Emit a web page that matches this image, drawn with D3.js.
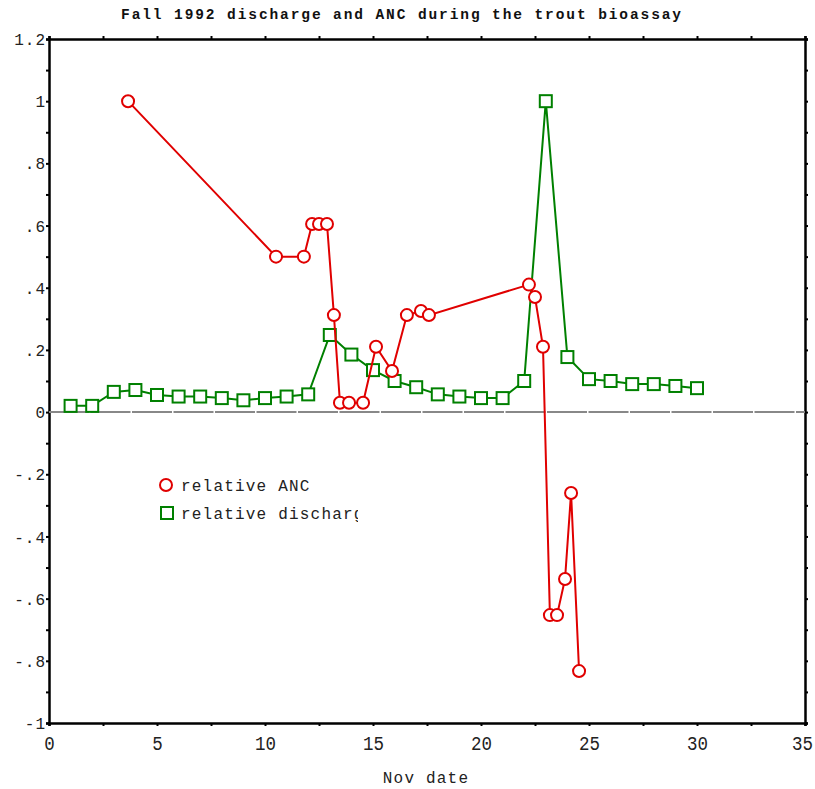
<!DOCTYPE html>
<html>
<head>
<meta charset="utf-8">
<script src="https://cdn.jsdelivr.net/npm/d3@7"></script>
<style>
  body { margin: 0; background: #fff; }
  text { font-family: "Liberation Mono", "DejaVu Sans Mono", monospace; }
</style>
</head>
<body>
<div id="container"></div>
<script>
/* CONSTANTS AND GLOBALS */
const width = 815,
  height = 789,
  margin = { top: 39, bottom: 66, left: 49, right: 10 }

// relative ANC (red circles)
const ancDate = [3.66, 10.51, 11.8, 12.18, 12.5, 12.87, 13.19, 13.47, 13.89, 14.54, 15.14, 15.88,
  16.57, 17.22, 17.59, 22.22, 22.5, 22.87, 23.19, 23.52, 23.89, 24.17, 24.54]
const ancValue = [1.0, 0.5, 0.5, 0.605, 0.605, 0.605, 0.312, 0.03, 0.03, 0.03, 0.21, 0.132,
  0.312, 0.325, 0.312, 0.41, 0.37, 0.21, -0.653, -0.653, -0.537, -0.26, -0.833]

// relative discharge (green squares)
const disDate = d3.range(1, 31)
const disValue = [0.02, 0.02, 0.065, 0.071, 0.055, 0.05, 0.05, 0.045, 0.038, 0.045,
  0.05, 0.057, 0.248, 0.185, 0.135, 0.1, 0.08, 0.057, 0.05, 0.045,
  0.045, 0.1, 1.0, 0.177, 0.106, 0.1, 0.09, 0.09, 0.084, 0.077]

const xTicks = [0, 5, 10, 15, 20, 25, 30, 35]
const yTicks = [1.2, 1, 0.8, 0.6, 0.4, 0.2, 0, -0.2, -0.4, -0.6, -0.8, -1]

const anc = ancDate.map((d, i) => ({ x: d, y: ancValue[i] }))
const dis = disDate.map((d, i) => ({ x: d, y: disValue[i] }))

/* SCALES */
const xScale = d3.scaleLinear()
  .domain([0, 35])
  .range([margin.left, width - margin.right])

const yScale = d3.scaleLinear()
  .domain([-1, 1.2])
  .range([height - margin.bottom, margin.top])

const fmtY = v => {
  if (Math.abs(v) < 1e-9) return "0"
  let s = String(+v.toFixed(1))
  return s.replace(/^0\./, ".").replace(/^-0\./, "-.")
}

/* HTML ELEMENTS */
const svg = d3.select("#container")
  .append("svg")
  .attr("width", width)
  .attr("height", height)

const xMinor = d3.range(0, 35.01, 2.5)
const yMinor = d3.range(-10, 12.01, 1).map(d => d / 10)

// axes
const axBottom = svg.append("g")
  .attr("transform", `translate(0,${yScale(-1)})`)
  .call(d3.axisBottom(xScale).tickValues(xMinor).tickSize(3)
    .tickFormat(d => xTicks.includes(d) ? d : ""))
const axTop = svg.append("g")
  .attr("transform", `translate(0,${yScale(1.2)})`)
  .call(d3.axisTop(xScale).tickValues(xMinor).tickSize(3).tickFormat(""))
const axLeft = svg.append("g")
  .attr("transform", `translate(${xScale(0)},0)`)
  .call(d3.axisLeft(yScale).tickValues(yMinor).tickSize(3)
    .tickFormat(d => yTicks.some(t => Math.abs(t - d) < 1e-9) ? fmtY(d) : ""))
const axRight = svg.append("g")
  .attr("transform", `translate(${xScale(35)},0)`)
  .call(d3.axisRight(yScale).tickValues(yMinor).tickSize(3).tickFormat(""))

;[axBottom, axTop, axLeft, axRight].forEach(g => {
  g.select(".domain").attr("stroke", "#000").attr("stroke-width", 2.5)
  g.selectAll(".tick line").attr("stroke", "#000").attr("stroke-width", 2)
})
axBottom.selectAll(".tick text")
  .attr("font-size", 20).attr("fill", "#222").attr("dy", "1.05em")
axBottom.selectAll(".tick").each(function (d) {
  const t = d3.select(this).select("text")
  if (t.text() !== "") {
    t.attr("textLength", String(d).length * 10.5)
      .attr("lengthAdjust", "spacingAndGlyphs")
    if (d === 35) t.attr("x", -3)
  }
})
axLeft.selectAll(".tick text")
  .attr("font-size", 16).attr("fill", "#222").attr("x", -3).attr("dy", "0.35em")
  .attr("letter-spacing", 1)

// zero line
svg.append("line")
  .attr("x1", xScale(0)).attr("x2", xScale(35))
  .attr("y1", yScale(0)).attr("y2", yScale(0))
  .attr("stroke", "#888").attr("stroke-width", 2)
  .attr("stroke-dasharray", "40,1.5")

const line = d3.line().x(d => xScale(d.x)).y(d => yScale(d.y))

const red = "#e00000", green = "#008000"

// discharge
svg.append("path").datum(dis)
  .attr("d", line).attr("fill", "none")
  .attr("stroke", green).attr("stroke-width", 2)
svg.selectAll(".sq").data(dis).join("rect")
  .attr("class", "sq")
  .attr("x", d => xScale(d.x) - 6).attr("y", d => yScale(d.y) - 6)
  .attr("width", 12).attr("height", 12)
  .attr("fill", "#fff").attr("stroke", green).attr("stroke-width", 2)

// ANC
svg.append("path").datum(anc)
  .attr("d", line).attr("fill", "none")
  .attr("stroke", red).attr("stroke-width", 2)
svg.selectAll(".dot").data(anc).join("circle")
  .attr("class", "dot")
  .attr("cx", d => xScale(d.x)).attr("cy", d => yScale(d.y))
  .attr("r", 6)
  .attr("fill", "#fff").attr("stroke", red).attr("stroke-width", 2)

// legend (second entry is clipped, as in the original)
svg.append("clipPath").attr("id", "legclip")
  .append("rect").attr("x", 150).attr("y", 470).attr("width", 208).attr("height", 60)
const legend = svg.append("g").attr("clip-path", "url(#legclip)")
legend.append("circle").attr("cx", 166).attr("cy", 485).attr("r", 6)
  .attr("fill", "#fff").attr("stroke", red).attr("stroke-width", 2)
legend.append("rect").attr("x", 161).attr("y", 507).attr("width", 12).attr("height", 12)
  .attr("fill", "#fff").attr("stroke", green).attr("stroke-width", 2)
legend.append("text").attr("x", 181).attr("y", 491).attr("font-size", 16).attr("fill", "#222")
  .attr("letter-spacing", 1.2)
  .text("relative ANC")
legend.append("text").attr("x", 181).attr("y", 519).attr("font-size", 16).attr("fill", "#222")
  .attr("letter-spacing", 1.2)
  .text("relative discharge")

// title and axis label
svg.append("text")
  .attr("x", 402).attr("y", 19)
  .attr("text-anchor", "middle")
  .attr("font-size", 14.5).attr("font-weight", "bold").attr("fill", "#111")
  .attr("letter-spacing", 1.9)
  .text("Fall 1992 discharge and ANC during the trout bioassay")

svg.append("text")
  .attr("x", 426).attr("y", 783)
  .attr("text-anchor", "middle")
  .attr("font-size", 16).attr("fill", "#222")
  .attr("letter-spacing", 1.2)
  .text("Nov date")
</script>
</body>
</html>
